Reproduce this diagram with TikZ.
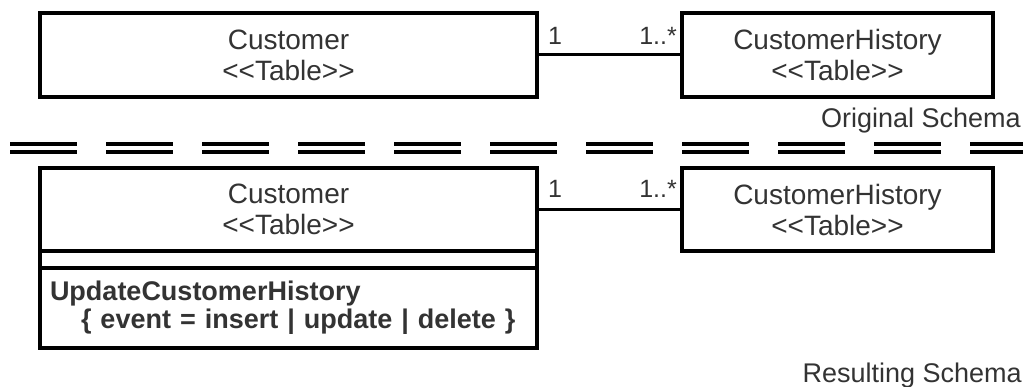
\documentclass[tikz,border=0pt]{standalone}
\usepackage{fontspec}
\setmainfont{Liberation Sans}
\usepackage{xcolor}
\usetikzlibrary{positioning}
\definecolor{inkgray}{HTML}{333333}
\newcommand{\stereotype}[1]{<\kern0pt<#1>\kern0pt>}

\begin{document}
\begin{tikzpicture}[x=1pt,y=-1pt,
    tablebox/.style={draw,line width=3.2pt,inner sep=0pt,outer sep=0pt,align=center,text=inkgray,
      font=\fontsize{28}{31}\selectfont,minimum height=84pt},
    mult/.style={text=inkgray,font=\fontsize{25}{30}\selectfont,inner sep=0pt},
    schema/.style={text=inkgray,font=\fontsize{27}{31}\selectfont,inner sep=0pt},
    assoc/.style={line width=3pt}]
  \useasboundingbox (0,0) rectangle (1023,387);
  % original schema
  \node[tablebox,minimum width=497pt] (custA) at (288.5,55) {Customer\\\stereotype{Table}};
  \node[tablebox,minimum width=311pt] (histA) at (837.5,55) {CustomerHistory\\\stereotype{Table}};
  \draw[assoc] (custA.east) -- (histA.west);
  \node[mult,anchor=base west] (multA1) at ([xshift=11pt,yshift=-32pt]custA.north east) {1};
  \node[mult,anchor=base east] (multA2) at ([xshift=-5pt,yshift=-32pt]histA.north west) {1..*};
  \node[schema,anchor=base east] (origlbl) at (1021,128) {Original Schema};
  % separator
  \foreach \y in {144,152} \draw[line width=3.2pt,dash pattern=on 67pt off 29pt] (10,\y) -- (1023,\y);
  % resulting schema
  \node[tablebox,minimum width=497pt,minimum height=83pt] (custB) at (288.5,209.5) {Customer\\\stereotype{Table}};
  \node[tablebox,minimum width=497pt,minimum height=17pt,below=0pt of custB] (custBattr) {};
  \node[tablebox,minimum width=497pt,minimum height=80pt,below=0pt of custBattr,align=left,
    text width=477pt,inner xsep=10pt,font=\bfseries\fontsize{27}{28}\selectfont] (custBops)
    {UpdateCustomerHistory\\\hspace*{31pt}\{ event = insert | update | delete \}};
  \node[tablebox,minimum width=311pt,minimum height=83pt] (histB) at (837.5,209.5) {CustomerHistory\\\stereotype{Table}};
  \draw[assoc] (custB.east) -- (histB.west);
  \node[mult,anchor=base west] (multB1) at ([xshift=11pt,yshift=-30pt]custB.north east) {1};
  \node[mult,anchor=base east] (multB2) at ([xshift=-5pt,yshift=-30pt]histB.north west) {1..*};
  \node[schema,anchor=base east] (reslbl) at (1022,382) {Resulting Schema};
\end{tikzpicture}
\end{document}
